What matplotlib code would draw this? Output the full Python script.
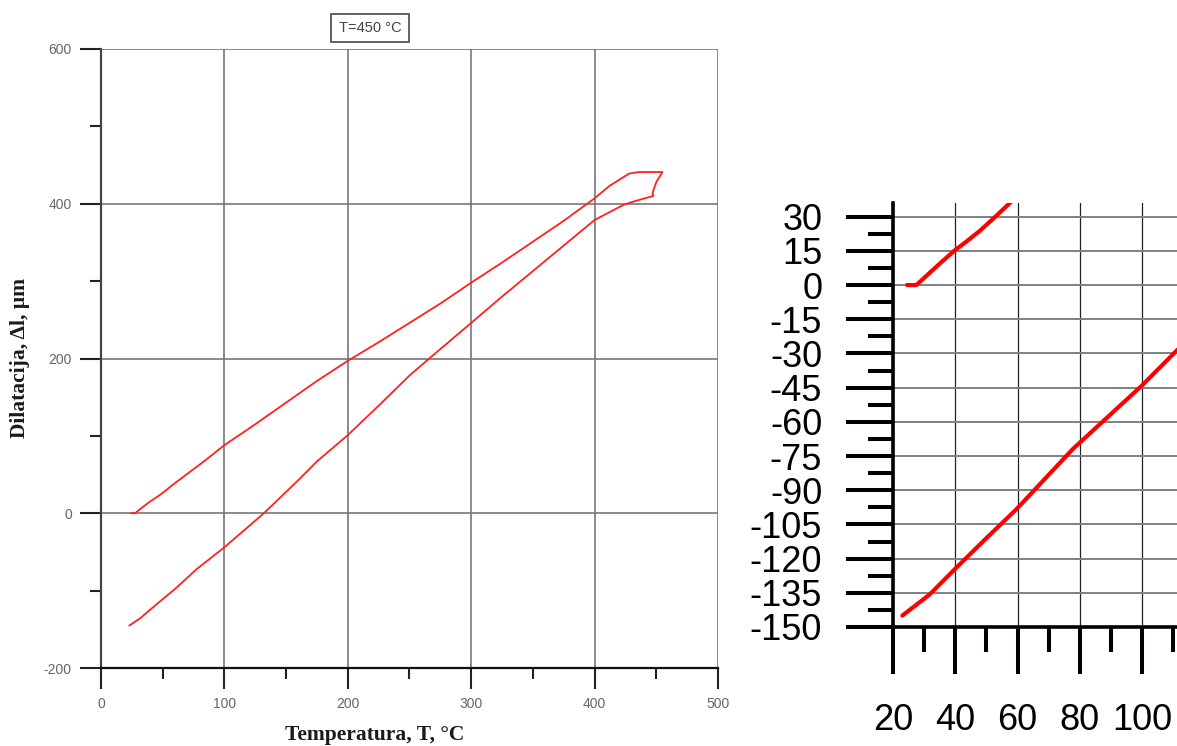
import matplotlib.pyplot as plt
from matplotlib.ticker import MultipleLocator, FixedLocator

plt.rcParams['font.family'] = ['Liberation Sans', 'DejaVu Sans']
plt.rcParams['axes.unicode_minus'] = False

# dilatometer curve, T=450 C cycle
# heating branch, incl. the small hook at the top
T_heat = [24.5, 27.5, 31.8, 35.5, 39.8, 43.5, 47.8, 52.5, 57.5, 70, 85, 100,
          125, 150, 175, 200, 225, 250, 275, 300, 325, 350, 375, 400, 412,
          428, 436, 455, 450, 447, 447.5]
dl_heat = [0, 0, 5.4, 10, 15.2, 19, 23.7, 29.5, 36, 51, 69, 88,
           115, 143, 171, 197, 221, 246, 271, 298, 324, 351, 378, 407, 423,
           439, 441, 441, 428, 414, 410]
# cooling branch
T_cool = [434, 424, 400, 375, 350, 325, 300, 283, 266, 250, 225, 200, 175,
          160, 132, 100, 77.7, 59.6, 50, 39.8, 31.8, 23]
dl_cool = [404, 399, 379, 346, 313, 280, 246, 223, 200, 178, 139, 101, 67,
           43, 0, -44, -72, -98.4, -111, -124.7, -135.7, -145]

T = T_heat + T_cool
dl = dl_heat + dl_cool

main_xticks = [0, 100, 200, 300, 400, 500]
main_yticks = [-200, 0, 200, 400, 600]
zoom_xticks = [20, 40, 60, 80, 100]
zoom_yticks = list(range(-150, 31, 15))

W, H = 1177, 746


def box(l, t, r, b):
    return [l / W, 1 - b / H, (r - l) / W, (b - t) / H]


fig = plt.figure(figsize=(W / 100, H / 100), dpi=100)

# ---- main chart ----
ax = fig.add_axes(box(101, 49, 718, 668))
ax.plot(T, dl, color='#ff2020', lw=1.3)
ax.set_xlim(0, 500)
ax.set_ylim(-200, 600)
ax.set_xticks(main_xticks)
ax.set_yticks(main_yticks)
ax.xaxis.set_minor_locator(MultipleLocator(50))
ax.yaxis.set_minor_locator(MultipleLocator(100))
ax.grid(True, which='major', color='#777777', lw=1.2)
for s in ['top', 'right']:
    ax.spines[s].set_visible(False)
ax.spines['left'].set_color('#444444')
ax.spines['left'].set_linewidth(1.6)
ax.spines['bottom'].set_color('#111111')
ax.spines['bottom'].set_linewidth(1.6)
ax.tick_params(which='major', direction='out', length=15, width=1.5,
               color='#222222', labelsize=10, labelcolor='#666666', pad=6)
ax.tick_params(which='minor', direction='out', length=8, width=1.5,
               color='#222222')

fig.text(370 / W, 1 - 28 / H, 'T=450 °C', ha='center', va='center',
         fontsize=10.5, color='#444444',
         bbox=dict(boxstyle='square,pad=0.5', fc='white', ec='#555555', lw=1.3))
fig.text(375 / W, 1 - 735 / H, 'Temperatura, T, °C', ha='center', va='center',
         fontsize=15.5, fontweight='bold', family='Liberation Serif',
         color='#1a1a1a')
fig.text(20 / W, 1 - 358 / H, 'Dilatacija, Δl, μm', ha='center', va='center',
         rotation=90, fontsize=15.5, fontweight='bold',
         family='Liberation Serif', color='#1a1a1a')

# ---- zoomed start of the curve ----
ax2 = fig.add_axes(box(893, 203, 1177, 627))
ax2.plot(T, dl, color='#ff0000', lw=3, solid_capstyle='round')
ax2.set_xlim(20, 111.2)
ax2.set_ylim(-150, 36)
ax2.xaxis.set_major_locator(FixedLocator(zoom_xticks))
ax2.xaxis.set_minor_locator(FixedLocator([30, 50, 70, 90, 110]))
ax2.yaxis.set_major_locator(FixedLocator(zoom_yticks))
ax2.yaxis.set_minor_locator(MultipleLocator(7.5))
ax2.yaxis.grid(True, which='major', color='#808080', lw=1.4)
ax2.xaxis.grid(True, which='major', color='#222222', lw=0.9)
for s in ['top', 'right']:
    ax2.spines[s].set_visible(False)
for s in ['left', 'bottom']:
    ax2.spines[s].set_linewidth(2.6)
    ax2.spines[s].set_color('black')
ax2.tick_params(axis='y', which='major', length=34, width=2.9, pad=17,
                labelsize=26)
ax2.tick_params(axis='x', which='major', length=34, width=2.9, pad=21,
                labelsize=26)
ax2.tick_params(which='minor', length=18, width=2.9)

fig.savefig('out.png', dpi=100)
